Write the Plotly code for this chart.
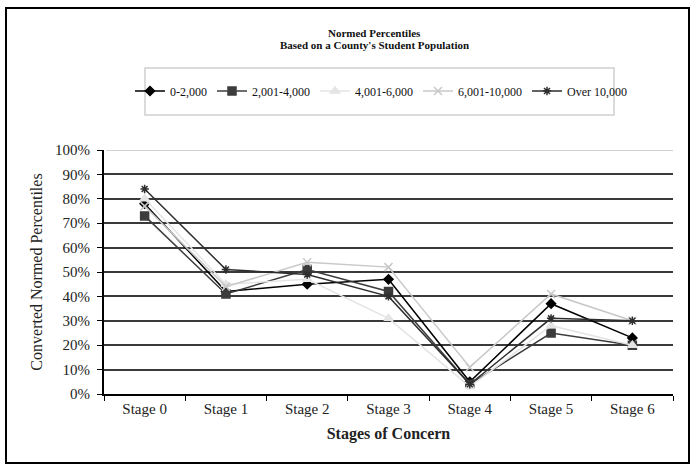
import plotly.graph_objects as go

stages = ["Stage 0", "Stage 1", "Stage 2", "Stage 3", "Stage 4", "Stage 5", "Stage 6"]
s_0_2000 = [0.78, 0.42, 0.45, 0.47, 0.05, 0.37, 0.23]
s_2001_4000 = [0.73, 0.41, 0.51, 0.42, 0.04, 0.25, 0.20]
s_4001_6000 = [0.80, 0.45, 0.47, 0.31, 0.03, 0.28, 0.20]
s_6001_10000 = [0.77, 0.44, 0.54, 0.52, 0.11, 0.41, 0.30]
s_over_10000 = [0.84, 0.51, 0.49, 0.40, 0.04, 0.31, 0.30]

series = [
    ("0-2,000", s_0_2000, "#000000", "diamond", 7),
    ("2,001-4,000", s_2001_4000, "#3c3c3c", "square", 8),
    ("4,001-6,000", s_4001_6000, "#e4e4e4", "triangle-up", 8),
    ("6,001-10,000", s_6001_10000, "#c8c8c8", "x-thin-open", 8),
    ("Over 10,000", s_over_10000, "#2e2e2e", "asterisk-open", 7),
]

serif = "Liberation Serif"
fig = go.Figure()
for name, vals, col, sym, sz in series:
    fig.add_trace(go.Scatter(
        x=stages, y=vals, name=name, mode="lines+markers",
        line=dict(color=col, width=1.5),
        marker=dict(symbol=sym, size=sz, color=col, line=dict(color=col, width=1.5)),
    ))

W, H = 696, 466
L, R, T, B = 104, 23, 150, 72
pw, ph = W - L - R, H - T - B

def px_x(x):
    return (x - L) / pw

def px_y(y):
    return (H - B - y) / ph

fig.update_layout(
    width=W, height=H,
    margin=dict(l=L, r=R, t=T, b=B),
    paper_bgcolor="white", plot_bgcolor="white",
    font=dict(family=serif, size=15, color="#222"),
    showlegend=True,
    legend=dict(
        orientation="h", x=px_x(381), y=px_y(91), xanchor="center", yanchor="middle",
        bgcolor="rgba(0,0,0,0)", borderwidth=0,
        font=dict(family=serif, size=12, color="#111"),
        itemwidth=30, tracegroupgap=0,
    ),
    xaxis=dict(
        type="category", range=[-0.5, 6.5],
        tickson="boundaries", ticks="outside", ticklen=5, tickcolor="#000",
        showline=True, linecolor="#000", linewidth=2, showgrid=False,
        tickfont=dict(family=serif, size=15, color="#222"),
        title=dict(text="<b>Stages of Concern</b>", font=dict(family=serif, size=16, color="#222"), standoff=12),
    ),
    yaxis=dict(
        range=[0, 1.0], tickvals=[i / 10 for i in range(11)], tickformat=".0%",
        ticks="outside", ticklen=5, tickcolor="#000", ticklabelstandoff=4,
        showline=True, linecolor="#000", linewidth=2,
        showgrid=True, gridcolor="#3a3a3a", gridwidth=2,
        tickfont=dict(family=serif, size=15, color="#222"),
        title=dict(text="Converted Normed Percentiles", font=dict(family=serif, size=16, color="#222"), standoff=8),
        zeroline=False,
    ),
    annotations=[
        dict(text="<b>Normed Percentiles</b>", xref="paper", yref="paper",
             x=px_x(374), y=px_y(33), xanchor="center", yanchor="middle", showarrow=False,
             font=dict(family=serif, size=11, color="#111")),
        dict(text="<b>Based on a County's Student Population</b>", xref="paper", yref="paper",
             x=px_x(374), y=px_y(45), xanchor="center", yanchor="middle", showarrow=False,
             font=dict(family=serif, size=11, color="#111")),
    ],
    shapes=[
        dict(type="rect", xref="paper", yref="paper",
             x0=px_x(6), x1=px_x(689), y0=px_y(463), y1=px_y(8),
             line=dict(color="#000", width=2), fillcolor="rgba(0,0,0,0)", layer="below"),
        dict(type="rect", xref="paper", yref="paper",
             x0=px_x(145), x1=px_x(614), y0=px_y(115), y1=px_y(68),
             line=dict(color="#cfcfcf", width=1.5), fillcolor="rgba(0,0,0,0)", layer="below"),
        dict(type="line", xref="paper", yref="y",
             x0=px_x(106), x1=1, y0=1.0, y1=1.0,
             line=dict(color="#d0d0d0", width=2), layer="below"),
    ],
)

fig.write_html("out.html", config={"displayModeBar": False},
               post_script="document.body.style.margin='0';")
